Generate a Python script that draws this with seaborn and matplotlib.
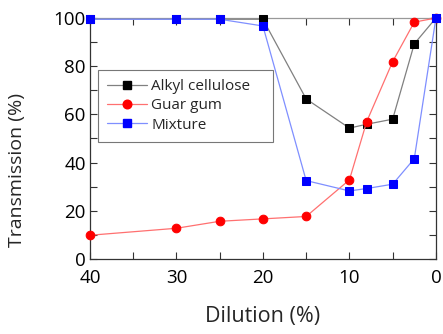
import matplotlib
matplotlib.use("Agg")
import matplotlib.pyplot as plt
import seaborn as sns
import pandas as pd
from matplotlib.lines import Line2D
from matplotlib.ticker import MultipleLocator

dilution = [40, 30, 25, 20, 15, 10, 8, 5, 2.5, 0]
alkyl = [99.5, 99.5, 99.5, 99.5, 66.4, 54.3, 55.9, 58.0, 89.3, 100]
guar = [9.8, 12.7, 15.6, 16.6, 17.6, 32.8, 57.0, 81.9, 98.3, 100]
mixture = [99.5, 99.5, 99.5, 96.7, 32.5, 28.2, 29.2, 31.0, 41.6, 100]
series_names = ["Alkyl cellulose", "Guar gum", "Mixture"]

sns.set_style("ticks")
plt.rcParams['font.family'] = ['Open Sans', 'DejaVu Sans']

fig = plt.figure(figsize=(4.43, 3.34), dpi=100)
ax = fig.add_axes([0.203, 0.225, 0.781, 0.721])

styles = [
    (alkyl, "#808080", "black", "s", 5.5),
    (guar, "#ff7070", "red", "o", 6.2),
    (mixture, "#7f8fff", "blue", "s", 5.5),
]
handles = []
for name, (vals, lc, mc, mk, ms) in zip(series_names, styles):
    df = pd.DataFrame({"x": dilution, "y": vals})
    sns.lineplot(data=df, x="x", y="y", ax=ax, color=lc, lw=0.9, sort=False,
                 marker=mk, markersize=ms, markerfacecolor=mc, markeredgecolor=mc,
                 clip_on=False, zorder=3)
    handles.append(Line2D([], [], color=lc, lw=0.9, marker=mk, markersize=ms,
                          markerfacecolor=mc, markeredgecolor=mc))

ax.set_xlim(40, 0)
ax.set_ylim(0, 100)
ax.xaxis.set_major_locator(MultipleLocator(10))
ax.xaxis.set_minor_locator(MultipleLocator(5))
ax.yaxis.set_major_locator(MultipleLocator(20))
ax.yaxis.set_minor_locator(MultipleLocator(10))
ax.tick_params(which="both", direction="in", top=True, right=True, width=0.8,
               colors="#333333", labelcolor="black", labelsize=13.5)
ax.tick_params(which="major", length=5)
ax.tick_params(axis="x", which="major", pad=7)
ax.tick_params(axis="y", which="major", pad=3)
ax.tick_params(which="minor", length=5)
for s in ax.spines.values():
    s.set_linewidth(0.9)
    s.set_color("#333333")
ax.spines["top"].set_color("#999999")

ax.set_xlabel("Dilution (%)", fontsize=15.5)
ax.set_ylabel("Transmission (%)", fontsize=14)
ax.xaxis.set_label_coords(0.5, -0.195)
ax.yaxis.set_label_coords(-0.185, 0.37)

leg = ax.legend(handles, series_names, loc="upper left",
                bbox_to_anchor=(0.023, 0.506, 0.506, 0.278), mode="expand",
                fontsize=11, frameon=True, fancybox=False, handlelength=2.6,
                handletextpad=0.3, borderpad=0.6, labelspacing=0.28,
                borderaxespad=0)
leg.get_frame().set_edgecolor("#555555")
leg.get_frame().set_linewidth(0.8)

fig.savefig("out.png", dpi=100)
